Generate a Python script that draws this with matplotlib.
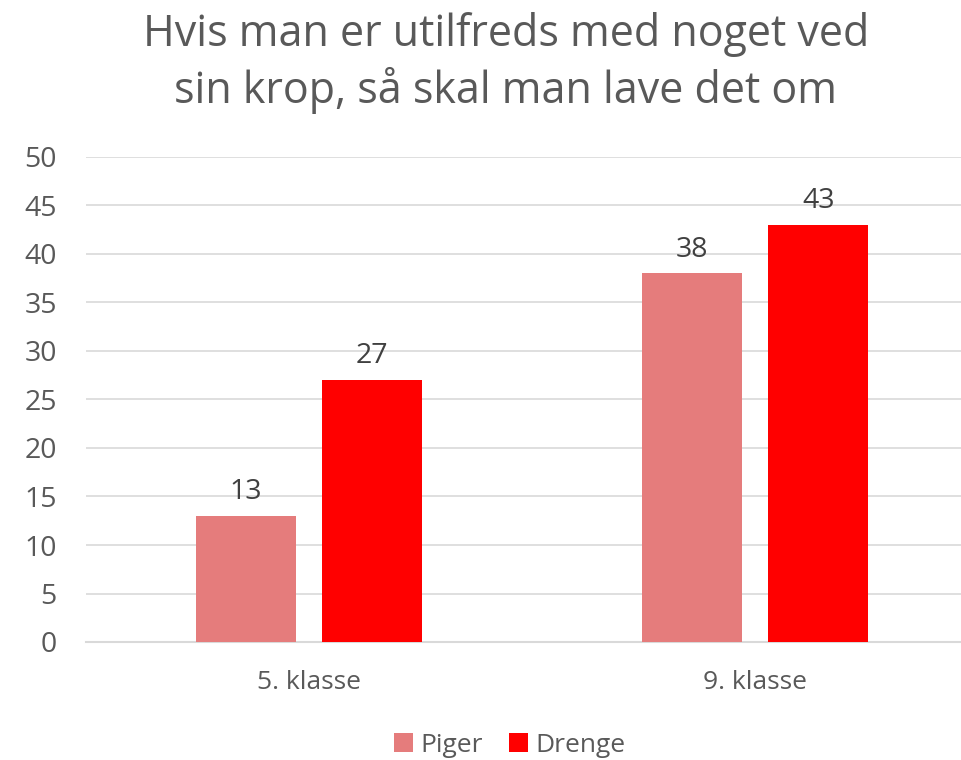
import numpy as np
import matplotlib.pyplot as plt

# data
categories = ["5. klasse", "9. klasse"]
piger = [13, 38]
drenge = [27, 43]
series_names = ["Piger", "Drenge"]
title = "Hvis man er utilfreds med noget ved\nsin krop, så skal man lave det om"

# styles
fnt = "Open Sans"
txtcol = "#595959"
pigercol = "#E57C7C"
drengecol = "#FF0000"
gridcol = "#D9D9D9"
bwidth = 0.224
offset = 0.142
fsize = 19
numsize = 20.5 #digits look a bit bigger in the original

fig = plt.figure(figsize=(9.61, 7.6), dpi=100)
ax = fig.add_axes([86/961, 1-642/760, 892/961, 485/760])

x = np.arange(len(categories))
b1 = ax.bar(x - offset, piger, bwidth, color=pigercol, label=series_names[0], zorder=3)
b2 = ax.bar(x + offset, drenge, bwidth, color=drengecol, label=series_names[1], zorder=3)

for bars in (b1, b2):
    ax.bar_label(bars, padding=7, fontsize=numsize, color="#404040", fontname=fnt)

ax.set_xlim(-0.5, 1.5)
ax.set_ylim(0, 50)
ax.set_yticks(range(0, 51, 5))
ax.set_xticks(x)
ax.set_xticklabels(categories)
ax.grid(axis="y", color=gridcol, linewidth=1.2, zorder=0)
ax.tick_params(length=0, labelcolor=txtcol)
ax.tick_params(axis="y", pad=21, labelsize=numsize)
ax.tick_params(axis="x", pad=20, labelsize=fsize)
for lab in ax.get_xticklabels() + ax.get_yticklabels():
    lab.set_fontname(fnt)
for s in ["top", "right", "left"]:
    ax.spines[s].set_visible(False)
ax.spines["bottom"].set_color(gridcol)
ax.spines["bottom"].set_linewidth(1.5)

fig.text(506/961, 1-63/760, title, ha="center", va="center", fontsize=31,
         color=txtcol, fontname=fnt, linespacing=1.3)

fig.legend(loc="center", bbox_to_anchor=(510/961, 1-745/760), ncol=2, frameon=False,
           prop={"family": fnt, "size": fsize}, labelcolor=txtcol, handlelength=0.7,
           handleheight=0.7, handletextpad=0.3, columnspacing=1.0)

plt.savefig("out.png", dpi=100)
